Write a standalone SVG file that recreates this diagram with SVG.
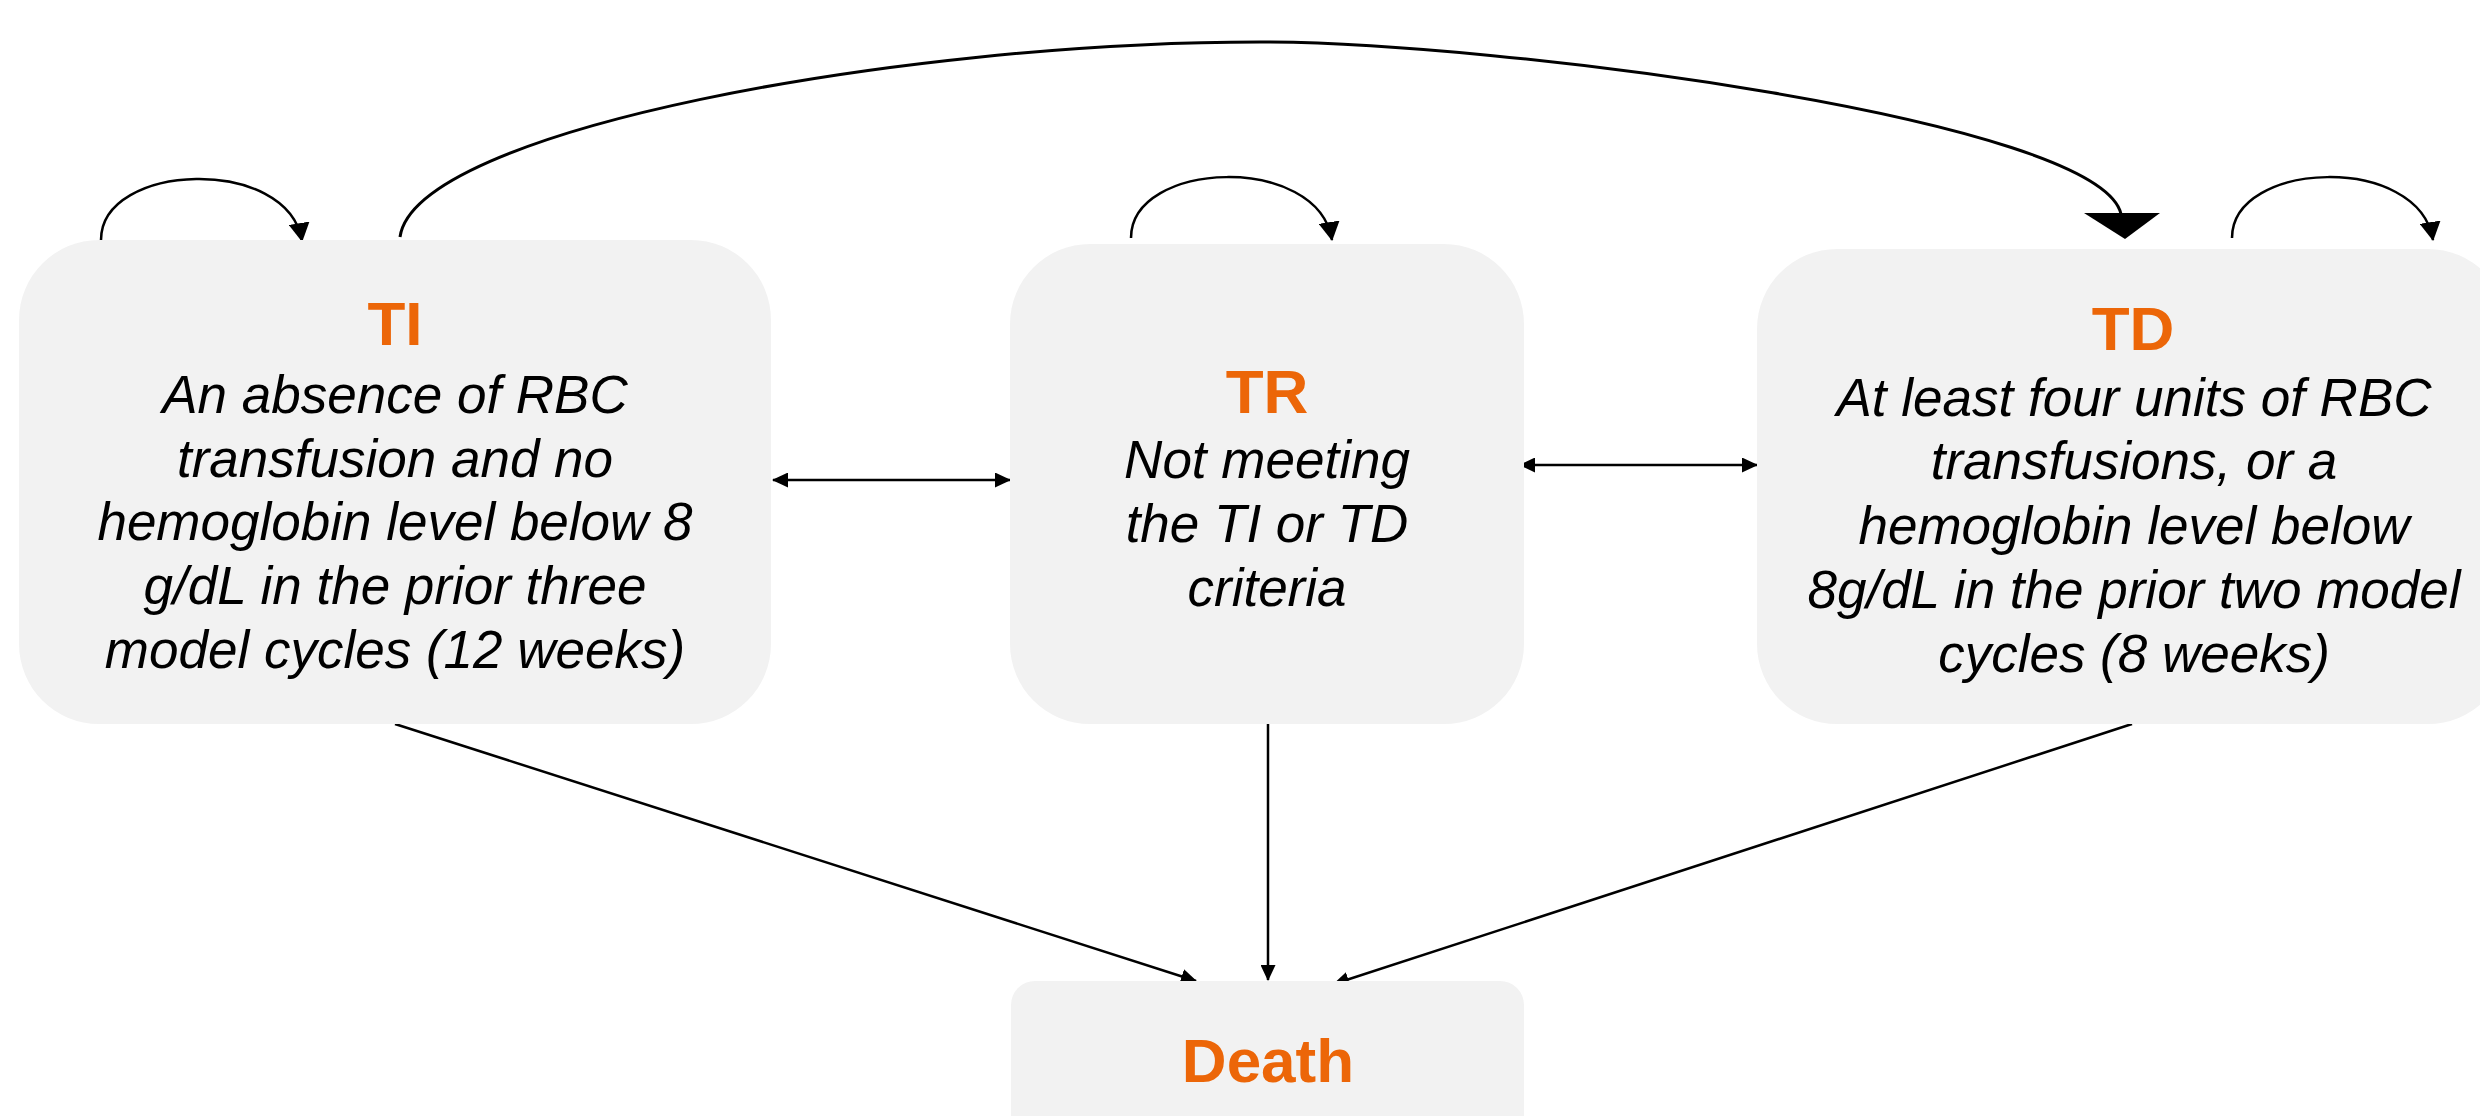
<svg xmlns="http://www.w3.org/2000/svg" width="2480" height="1116" viewBox="0 0 2480 1116">
<style>
.box{fill:#F2F2F2;}
.title{font-family:"Liberation Sans",Arial,sans-serif;font-weight:bold;font-size:62px;fill:#EC6608;text-anchor:middle;}
.desc{font-family:"Liberation Sans",Arial,sans-serif;font-style:italic;font-size:53px;fill:#000;text-anchor:middle;}
.ln{fill:none;stroke:#000;stroke-width:2.5;}
</style>
<defs>
<marker id="arr" markerUnits="userSpaceOnUse" markerWidth="16" markerHeight="15" viewBox="0 0 16 15" refX="15" refY="7.5" orient="auto-start-reverse">
<path d="M0,0 L16,7.5 L0,15 Z" fill="#000"/>
</marker>
<marker id="arrL" markerUnits="userSpaceOnUse" markerWidth="19" markerHeight="21" viewBox="0 0 19 21" refX="18" refY="10.5" orient="auto">
<path d="M0,0 L19,10.5 L0,21 Z" fill="#000"/>
</marker>
</defs>
<rect width="2480" height="1116" fill="#FFFFFF"/>
<g id="connectors">
<path class="ln" d="M101,240 C101,162 288,155 302,241" marker-end="url(#arrL)"/>
<path class="ln" d="M1131,238 C1131,160 1318,153 1332,240" marker-end="url(#arrL)"/>
<path class="ln" d="M2232,238 C2232,160 2419,153 2433,240" marker-end="url(#arrL)"/>
<path class="ln" style="stroke-width:3" d="M400,237 C415,130 900,42 1260,42 C1500,42 2100,120 2121,214"/>
<polygon points="2084,213 2160,213 2125,239" fill="#000"/>
<line class="ln" x1="773" y1="480" x2="1010" y2="480" marker-start="url(#arr)" marker-end="url(#arr)"/>
<line class="ln" x1="1520" y1="465" x2="1757" y2="465" marker-start="url(#arr)" marker-end="url(#arr)"/>
<line class="ln" x1="395" y1="724" x2="1196" y2="981" marker-end="url(#arr)"/>
<line class="ln" x1="1268" y1="724" x2="1268" y2="980" marker-end="url(#arr)"/>
<line class="ln" x1="2132" y1="724" x2="1334" y2="984" marker-end="url(#arr)"/>
</g>
<g id="node-TI">
<rect class="box" x="19" y="240" width="752" height="484" rx="80" ry="80"/>
<text class="title" x="395" y="345">TI</text>
<text class="desc" x="395" y="413">An absence of RBC</text>
<text class="desc" x="395" y="477">transfusion and no</text>
<text class="desc" x="395" y="540">hemoglobin level below 8</text>
<text class="desc" x="395" y="604">g/dL in the prior three</text>
<text class="desc" x="395" y="668">model cycles (12 weeks)</text>
</g>
<g id="node-TR">
<rect class="box" x="1010" y="244" width="514" height="480" rx="80" ry="80"/>
<text class="title" x="1267" y="413">TR</text>
<text class="desc" x="1267" y="478">Not meeting</text>
<text class="desc" x="1267" y="542">the TI or TD</text>
<text class="desc" x="1267" y="606">criteria</text>
</g>
<g id="node-TD">
<rect class="box" x="1757" y="249" width="751" height="475" rx="80" ry="80"/>
<text class="title" x="2133" y="350">TD</text>
<text class="desc" x="2134" y="416">At least four units of RBC</text>
<text class="desc" x="2134" y="479">transfusions, or a</text>
<text class="desc" x="2134" y="544">hemoglobin level below</text>
<text class="desc" x="2134" y="608">8g/dL in the prior two model</text>
<text class="desc" x="2134" y="672">cycles (8 weeks)</text>
</g>
<g id="node-Death">
<rect class="box" x="1011" y="981" width="513" height="200" rx="24" ry="24"/>
<text class="title" x="1268" y="1082">Death</text>
</g>
</svg>
